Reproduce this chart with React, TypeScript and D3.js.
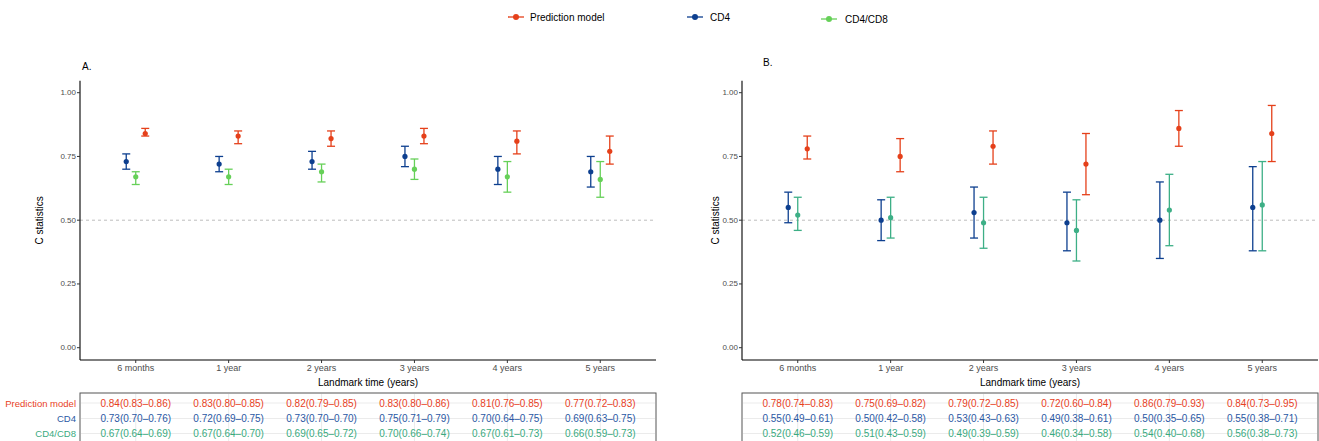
import React from "react";
import * as d3 from "d3";

const categories = ["6 months", "1 year", "2 years", "3 years", "4 years", "5 years"];
const seriesNames = ["CD4", "CD4/CD8", "Prediction model"];

// Panel A values
const aPred = [0.84, 0.83, 0.82, 0.83, 0.81, 0.77];
const aPredLo = [0.83, 0.80, 0.79, 0.80, 0.76, 0.72];
const aPredHi = [0.86, 0.85, 0.85, 0.86, 0.85, 0.83];
const aCd4 = [0.73, 0.72, 0.73, 0.75, 0.70, 0.69];
const aCd4Lo = [0.70, 0.69, 0.70, 0.71, 0.64, 0.63];
const aCd4Hi = [0.76, 0.75, 0.77, 0.79, 0.75, 0.75];
const aRatio = [0.67, 0.67, 0.69, 0.70, 0.67, 0.66];
const aRatioLo = [0.64, 0.64, 0.65, 0.66, 0.61, 0.59];
const aRatioHi = [0.69, 0.70, 0.72, 0.74, 0.73, 0.73];

// Panel B values
const bPred = [0.78, 0.75, 0.79, 0.72, 0.86, 0.84];
const bPredLo = [0.74, 0.69, 0.72, 0.60, 0.79, 0.73];
const bPredHi = [0.83, 0.82, 0.85, 0.84, 0.93, 0.95];
const bCd4 = [0.55, 0.50, 0.53, 0.49, 0.50, 0.55];
const bCd4Lo = [0.49, 0.42, 0.43, 0.38, 0.35, 0.38];
const bCd4Hi = [0.61, 0.58, 0.63, 0.61, 0.65, 0.71];
const bRatio = [0.52, 0.51, 0.49, 0.46, 0.54, 0.56];
const bRatioLo = [0.46, 0.43, 0.39, 0.34, 0.40, 0.38];
const bRatioHi = [0.59, 0.59, 0.59, 0.58, 0.68, 0.73];

// Table texts (as printed)
const aPredText = ["0.84(0.83\u20130.86)", "0.83(0.80\u20130.85)", "0.82(0.79\u20130.85)", "0.83(0.80\u20130.86)", "0.81(0.76\u20130.85)", "0.77(0.72\u20130.83)"];
const aCd4Text = ["0.73(0.70\u20130.76)", "0.72(0.69\u20130.75)", "0.73(0.70\u20130.70)", "0.75(0.71\u20130.79)", "0.70(0.64\u20130.75)", "0.69(0.63\u20130.75)"];
const aRatioText = ["0.67(0.64\u20130.69)", "0.67(0.64\u20130.70)", "0.69(0.65\u20130.72)", "0.70(0.66\u20130.74)", "0.67(0.61\u20130.73)", "0.66(0.59\u20130.73)"];
const bPredText = ["0.78(0.74\u20130.83)", "0.75(0.69\u20130.82)", "0.79(0.72\u20130.85)", "0.72(0.60\u20130.84)", "0.86(0.79\u20130.93)", "0.84(0.73\u20130.95)"];
const bCd4Text = ["0.55(0.49\u20130.61)", "0.50(0.42\u20130.58)", "0.53(0.43\u20130.63)", "0.49(0.38\u20130.61)", "0.50(0.35\u20130.65)", "0.55(0.38\u20130.71)"];
const bRatioText = ["0.52(0.46\u20130.59)", "0.51(0.43\u20130.59)", "0.49(0.39\u20130.59)", "0.46(0.34\u20130.58)", "0.54(0.40\u20130.68)", "0.56(0.38\u20130.73)"];

const yTicks = [0, 0.25, 0.5, 0.75, 1.0];

const RED = "#e5401a";
const BLUE = "#0d3f8f";
const GREEN_A = "#66d058";
const TEAL = "#3daf86";
const TBL_RED = "#e8411e";
const TBL_BLUE = "#2a58a4";
const TBL_TEAL = "#3aaa80";

const FONT = "'Liberation Sans', Arial, Helvetica, sans-serif";

type Series = { mid: number[]; lo: number[]; hi: number[]; color: string; off: number };

function Panel({ x0, x1, label, labelX, labelY, series, titleX, rows, rowColors, showRowLabels }: any) {
  const yTop = 80.7;
  const yBot = 360;
  const y = d3.scaleLinear().domain([0, 1]).range([347.7, 92.7]);
  const x = d3.scalePoint<string>().domain(categories).range([x0, x1]).padding(0.6);
  const dodge = 9.5;
  const rowY = [403, 418.5, 433.5];
  const capW = 4;
  return (
    <g fontFamily={FONT}>
      <text x={labelX} y={labelY} fontSize={10} fill="#000" dominantBaseline="central">{label}</text>
      {/* reference line */}
      <line x1={x0} x2={x1} y1={y(0.5)} y2={y(0.5)} stroke="#bdbdbd" strokeWidth={1} strokeDasharray="3,3" />
      {/* axes */}
      <line x1={x0} x2={x0} y1={yTop} y2={yBot} stroke="#000" strokeWidth={1.1} />
      <line x1={x0} x2={x1} y1={yBot} y2={yBot} stroke="#000" strokeWidth={1.1} />
      {yTicks.map((t) => (
        <g key={t}>
          <line x1={x0 - 3} x2={x0} y1={y(t)} y2={y(t)} stroke="#333" strokeWidth={1} />
          <text x={x0 - 4} y={y(t)} fontSize={8} fill="#4d4d4d" textAnchor="end" dominantBaseline="central">{t.toFixed(2)}</text>
        </g>
      ))}
      {categories.map((c) => (
        <g key={c}>
          <line x1={x(c)} x2={x(c)} y1={yBot} y2={yBot + 3} stroke="#333" strokeWidth={1} />
          <text x={x(c)} y={yBot + 7.5} fontSize={9} fill="#4d4d4d" textAnchor="middle" dominantBaseline="central">{c}</text>
        </g>
      ))}
      <text x={(x0 + x1) / 2} y={382.5} fontSize={10} fill="#000" textAnchor="middle" dominantBaseline="central">Landmark time (years)</text>
      <text transform={`translate(${titleX},${(yTop + yBot) / 2}) rotate(-90)`} fontSize={10} fill="#000" textAnchor="middle" dominantBaseline="central">C statistics</text>
      {/* error bars and points */}
      {series.map((s: Series, si: number) => (
        <g key={si}>
          {categories.map((c, i) => {
            const cx = (x(c) as number) + s.off * dodge;
            return (
              <g key={c}>
                <line x1={cx} x2={cx} y1={y(s.lo[i])} y2={y(s.hi[i])} stroke={s.color} strokeWidth={1.3} />
                <line x1={cx - capW} x2={cx + capW} y1={y(s.lo[i])} y2={y(s.lo[i])} stroke={s.color} strokeWidth={1.3} />
                <line x1={cx - capW} x2={cx + capW} y1={y(s.hi[i])} y2={y(s.hi[i])} stroke={s.color} strokeWidth={1.3} />
                <circle cx={cx} cy={y(s.mid[i])} r={2.6} fill={s.color} />
              </g>
            );
          })}
        </g>
      ))}
      {/* table */}
      <rect x={x0} y={393} width={x1 - x0} height={60} fill="#fff" stroke="#555" strokeWidth={1} />
      {rowY.map((ry) => (
        <line key={ry} x1={x0 + 1} x2={x1 - 1} y1={ry} y2={ry} stroke="#ebebeb" strokeWidth={1} />
      ))}
      {categories.map((c) => (
        <line key={c} x1={x(c)} x2={x(c)} y1={394} y2={441} stroke="#ebebeb" strokeWidth={1} />
      ))}
      {rows.map((r: string[], ri: number) => (
        <g key={ri}>
          {r.map((t, i) => (
            <text key={i} x={x(categories[i])} y={rowY[ri]} fontSize={10} fill={rowColors[ri]} textAnchor="middle" dominantBaseline="central">{t}</text>
          ))}
          {showRowLabels && (
            <text x={x0 - 4} y={rowY[ri]} fontSize={9.5} fill={rowColors[ri]} textAnchor="end" dominantBaseline="central">{seriesNames[[2, 0, 1][ri]]}</text>
          )}
        </g>
      ))}
    </g>
  );
}

export default function App() {
  const seriesA: Series[] = [
    { mid: aCd4, lo: aCd4Lo, hi: aCd4Hi, color: BLUE, off: -1 },
    { mid: aRatio, lo: aRatioLo, hi: aRatioHi, color: GREEN_A, off: 0 },
    { mid: aPred, lo: aPredLo, hi: aPredHi, color: RED, off: 1 },
  ];
  const seriesB: Series[] = [
    { mid: bCd4, lo: bCd4Lo, hi: bCd4Hi, color: BLUE, off: -1 },
    { mid: bRatio, lo: bRatioLo, hi: bRatioHi, color: TEAL, off: 0 },
    { mid: bPred, lo: bPredLo, hi: bPredHi, color: RED, off: 1 },
  ];
  const rowColors = [TBL_RED, TBL_BLUE, TBL_TEAL];
  const legend = [
    { name: "Prediction model", color: RED, mx: 516, tx: 530, y: 17 },
    { name: "CD4", color: BLUE, mx: 695, tx: 710, y: 17 },
    { name: "CD4/CD8", color: GREEN_A, mx: 829, tx: 845, y: 19 },
  ];
  return (
    <div style={{ position: "absolute", left: 0, top: 0 }}>
      <svg width={1319} height={441} style={{ display: "block", background: "#fff" }}>
        <rect width={1319} height={441} fill="#fff" />
        <g fontFamily={FONT}>
          {legend.map((l) => (
            <g key={l.name}>
              <line x1={l.mx - 8} x2={l.mx + 8} y1={l.y} y2={l.y} stroke={l.color} strokeWidth={1.3} />
              <circle cx={l.mx} cy={l.y} r={3} fill={l.color} />
              <text x={l.tx} y={l.y} fontSize={10} fill="#000" dominantBaseline="central">{l.name}</text>
            </g>
          ))}
        </g>
        <Panel x0={80} x1={656} label="A." labelX={82} labelY={66} titleX={39} series={seriesA}
          rows={[aPredText, aCd4Text, aRatioText]} rowColors={rowColors} showRowLabels={true} />
        <Panel x0={742} x1={1318} label="B." labelX={763} labelY={62} titleX={715} series={seriesB}
          rows={[bPredText, bCd4Text, bRatioText]} rowColors={rowColors} showRowLabels={false} />
      </svg>
    </div>
  );
}
